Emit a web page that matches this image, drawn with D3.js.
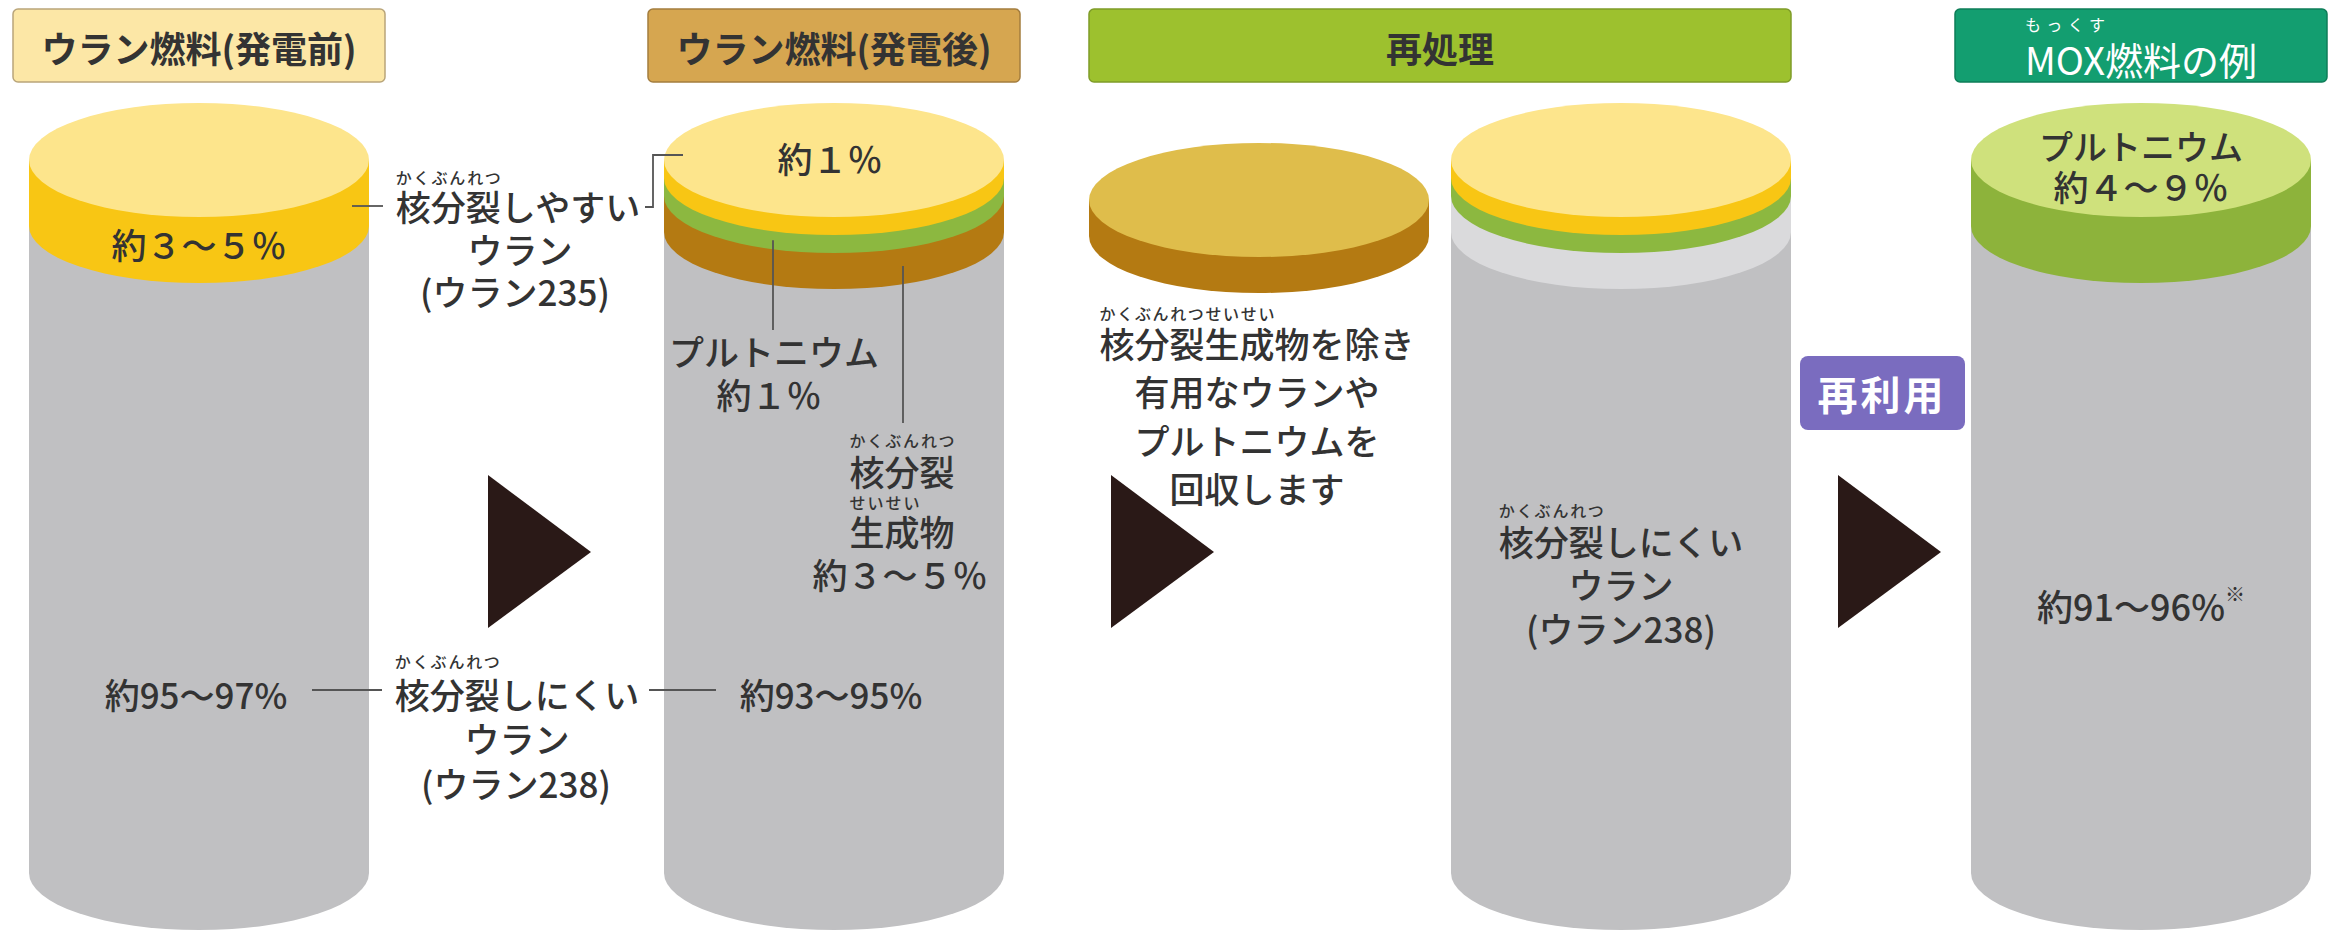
<!DOCTYPE html>
<html>
<head>
<meta charset="utf-8">
<style>
  html, body { margin: 0; padding: 0; background: #fff; }
  svg text { font-family: "Noto Sans CJK JP", "Noto Sans", sans-serif; fill: #333; }
</style>
<script src="https://cdn.jsdelivr.net/npm/d3@7"></script>
</head>
<body>
<div id="viz"></div>
<script>
// ---- data ----
const stageTitles = ["ウラン燃料(発電前)", "ウラン燃料(発電後)", "再処理", "MOX燃料の例"];
const columns = ["fresh", "spent", "fp", "recovered", "mox"];

// layers of each fuel, top first (share in %)
const freshLayers     = [{kind: "u235", share: 4}, {kind: "u238", share: 96}];
const spentLayers     = [{kind: "u235", share: 1}, {kind: "pu", share: 1}, {kind: "fp", share: 4}, {kind: "u238", share: 94}];
const fpLayers        = [{kind: "fp", share: 4}];
const recoveredLayers = [{kind: "u235", share: 1}, {kind: "pu", share: 1}, {kind: "void", share: 4}, {kind: "u238", share: 94}];
const moxLayers       = [{kind: "mox", share: 6.5}, {kind: "u238", share: 93.5}];

const shareLabels = {
  fresh235: "約３～５％", fresh238: "約95～97%",
  spent235: "約１％", spentPu: "約１％", spentFp: "約３～５％", spent238: "約93～95%",
  moxPu: "約４～９％", mox238: "約91～96%"
};

// ---- layout ----
const W = 2334, H = 933;
const svg = d3.select("#viz").append("svg").attr("width", W).attr("height", H);

const xCol = d3.scaleOrdinal().domain(columns).range([199, 834, 1259, 1621, 2141]);
const topY = d3.scaleOrdinal().domain(columns).range([160, 160, 200, 160, 160]);
const rx = 170, ry = 57, bottomY = 873;
const band = d3.scaleSqrt().domain([0, 4]).range([0, 36]);
const labelledMin = 66;

const sideColor = d3.scaleOrdinal()
  .domain(["u235", "pu", "fp", "void", "u238", "mox"])
  .range(["#f8c614", "#8cb840", "#b47a12", "#dadadc", "#c0c0c2", "#8db33b"]);
const faceColor = d3.scaleOrdinal()
  .domain(["u235", "fp", "mox"])
  .range(["#fde58c", "#dfbd4b", "#cfe17c"]);

const cylinders = [
  {col: "fresh", layers: freshLayers, labelled: true},
  {col: "spent", layers: spentLayers, labelled: false},
  {col: "fp", layers: fpLayers, labelled: false},
  {col: "recovered", layers: recoveredLayers, labelled: false},
  {col: "mox", layers: moxLayers, labelled: true}
];

cylinders.forEach(c => {
  c.cx = xCol(c.col);
  c.cy = topY(c.col);
  let y = c.cy;
  c.layers.forEach(l => {
    l.y0 = y;
    if (l.kind === "u238") l.y1 = bottomY;
    else l.y1 = y + (c.labelled ? Math.max(band(l.share), labelledMin) : band(l.share));
    y = l.y1;
  });
});

const sidePath = (cx, y0, y1) =>
  `M${cx - rx},${y0} L${cx - rx},${y1} A${rx},${ry} 0 0 0 ${cx + rx},${y1} L${cx + rx},${y0} Z`;

// y of the middle of a layer, seen at horizontal position x
const layerMidAt = (c, l, x) => {
  const dx = (x - c.cx) / rx;
  return ry * Math.sqrt(1 - dx * dx) + (l.y0 + l.y1) / 2;
};

// ---- title boxes ----
const titleBoxes = [
  {text: stageTitles[0], x0: xCol("fresh") - 186, x1: xCol("fresh") + 186, fill: "#fce7a6", stroke: "#b9a57a", color: "#333"},
  {text: stageTitles[1], x0: xCol("spent") - 186, x1: xCol("spent") + 186, fill: "#d6a650", stroke: "#a47d3e", color: "#333"},
  {text: stageTitles[2], x0: xCol("fp") - rx, x1: xCol("recovered") + rx, fill: "#9dc12e", stroke: "#7f9c28", color: "#333"},
  {text: stageTitles[3], x0: xCol("mox") - 186, x1: xCol("mox") + 186, fill: "#139e70", stroke: "#0e7d58", color: "#fff", ruby: {start: 0, len: 3, text: "もっくす"}}
];

svg.append("g").selectAll("rect")
  .data(titleBoxes)
  .enter().append("rect")
    .attr("x", b => b.x0).attr("y", 9)
    .attr("width", b => b.x1 - b.x0).attr("height", 73)
    .attr("rx", 5)
    .style("fill", b => b.fill).style("stroke", b => b.stroke).style("stroke-width", 1.5);

// ---- cylinders ----
const cg = svg.append("g").attr("class", "cylinders");
cylinders.forEach(c => {
  const g = cg.append("g");
  g.selectAll("path.side")
    .data(c.layers.slice().reverse())
    .enter().append("path")
      .attr("class", "side")
      .attr("d", l => sidePath(c.cx, c.cy, l.y1))
      .style("fill", l => sideColor(l.kind));
  g.append("ellipse")
    .attr("cx", c.cx).attr("cy", c.cy).attr("rx", rx).attr("ry", ry)
    .style("fill", faceColor(c.layers[0].kind));
});

// ---- arrows ----
const arrowLeft = [488, 1111, 1838];
svg.append("g").selectAll("path")
  .data(arrowLeft)
  .enter().append("path")
    .attr("d", x => `M${x},475 L${x + 103},552 L${x},628 Z`)
    .style("fill", "#2a1917");

// re-use tag
svg.append("rect")
  .attr("x", 1800).attr("y", 356).attr("width", 165).attr("height", 74).attr("rx", 8)
  .style("fill", "#7a6cbf");
svg.append("text")
  .attr("x", 1882).attr("y", 393)
  .attr("text-anchor", "middle").attr("dominant-baseline", "central")
  .attr("font-size", 40).attr("font-weight", "bold").attr("letter-spacing", 3)
  .style("fill", "#fff")
  .text("再利用");

// ---- leader lines ----
const spent = cylinders[1];
const lx1 = 773, lx2 = 903;
const leaders = [
  [[352, 206], [383, 206]],
  [[645, 207], [653, 207], [653, 155], [683, 155]],
  [[312, 690], [382, 690]],
  [[649, 690], [716, 690]],
  [[lx1, layerMidAt(spent, spent.layers[1], lx1)], [lx1, 330]],
  [[lx2, layerMidAt(spent, spent.layers[2], lx2)], [lx2, 423]]
];
svg.append("g").selectAll("path")
  .data(leaders)
  .enter().append("path")
    .attr("d", d3.line())
    .style("fill", "none").style("stroke", "#555").style("stroke-width", 1.8);

// ---- text ----
// one <text> per block; each line is a tspan, furigana are extra tspans
const fs = 35;
function block(x, lines, opts) {
  opts = opts || {};
  const color = opts.color || "#333";
  const t = svg.append("text")
    .attr("text-anchor", "middle")
    .attr("font-weight", opts.bold ? "bold" : (opts.weight || 500))
    .style("fill", color);
  let idx = 0;
  const rubies = [];
  lines.forEach(ln => {
    t.append("tspan")
      .attr("x", x + (ln.dx || 0)).attr("y", ln.y)
      .attr("dominant-baseline", "central")
      .attr("font-size", ln.size || opts.size || fs)
      .text(ln.t);
    if (ln.sup) {
      t.append("tspan").attr("dominant-baseline", "central")
        .attr("font-size", 20).attr("dy", -12).text(ln.sup);
    }
    if (ln.ruby) rubies.push({ruby: ln.ruby, base: idx, y: ln.y, off: ln.rubyOffset || 30});
    idx += ln.t.length + (ln.sup ? ln.sup.length : 0);
  });
  const node = t.node();
  rubies.forEach(r => {
    const a = node.getStartPositionOfChar(r.base + r.ruby.start).x;
    const b = node.getEndPositionOfChar(r.base + r.ruby.start + r.ruby.len - 1).x;
    const size = opts.rubySize || 16;
    const rt = t.append("tspan")
      .attr("x", (a + b) / 2).attr("y", r.y - r.off)
      .attr("dominant-baseline", "central")
      .attr("font-size", size)
      .text(r.ruby.text);
    if (r.ruby.text.length * size < b - a) rt.attr("textLength", b - a).attr("lengthAdjust", "spacing");
  });
  return t;
}

// titles
titleBoxes.forEach(b => {
  const cx = (b.x0 + b.x1) / 2;
  if (b.ruby) block(cx, [{t: b.text, y: 58, ruby: b.ruby, rubyOffset: 34}], {size: 38, color: b.color, weight: 400});
  else block(cx, [{t: b.text, y: 47}], {size: 36, bold: true, color: b.color});
});

const kaku = {start: 0, len: 3, text: "かくぶんれつ"};

// fresh fuel
const fresh = cylinders[0];
const f0 = fresh.layers[0];
block(fresh.cx, [{t: shareLabels.fresh235, y: fresh.cy + ry * 0.88 + (f0.y1 - f0.y0) / 2}]);
block(518, [
  {t: "核分裂しやすい", y: 205, ruby: kaku, rubyOffset: 28},
  {t: "ウラン", y: 248, dx: 2},
  {t: "(ウラン235)", y: 290, dx: -3}
]);
block(196, [{t: shareLabels.fresh238, y: 693}]);
block(517, [
  {t: "核分裂しにくい", y: 693, ruby: kaku, rubyOffset: 32},
  {t: "ウラン", y: 737},
  {t: "(ウラン238)", y: 782, dx: -1}
]);

// spent fuel
block(spent.cx - 4, [{t: shareLabels.spent235, y: spent.cy - 3}]);
block(772, [
  {t: "プルトニウム", y: 350, dx: 2},
  {t: shareLabels.spentPu, y: 393, dx: -3}
]);
block(902, [
  {t: "核分裂", y: 470, ruby: kaku},
  {t: "生成物", y: 530, ruby: {start: 0, len: 2, text: "せいせい"}, rubyOffset: 28},
  {t: shareLabels.spentFp, y: 573, dx: -2}
]);
block(831, [{t: shareLabels.spent238, y: 693}]);

// reprocessing
const repro = ["核分裂生成物を除き", "有用なウランや", "プルトニウムを", "回収します"];
block(xCol("fp") - 2, repro.map((t, i) => i === 0
  ? {t: t, y: 342, ruby: {start: 0, len: 5, text: "かくぶんれつせいせい"}, rubyOffset: 29}
  : {t: t, y: 342 + i * 48.5}));

const rec = cylinders[3];
block(rec.cx, [
  {t: "核分裂しにくい", y: 540, ruby: kaku},
  {t: "ウラン", y: 583},
  {t: "(ウラン238)", y: 627}
]);

// MOX
const mox = cylinders[4];
block(mox.cx, [
  {t: "プルトニウム", y: mox.cy - 15, size: 34},
  {t: shareLabels.moxPu, y: mox.cy + 25}
]);
block(mox.cx, [{t: shareLabels.mox238, y: 605, size: 36, sup: "※"}]);
</script>
</body>
</html>
